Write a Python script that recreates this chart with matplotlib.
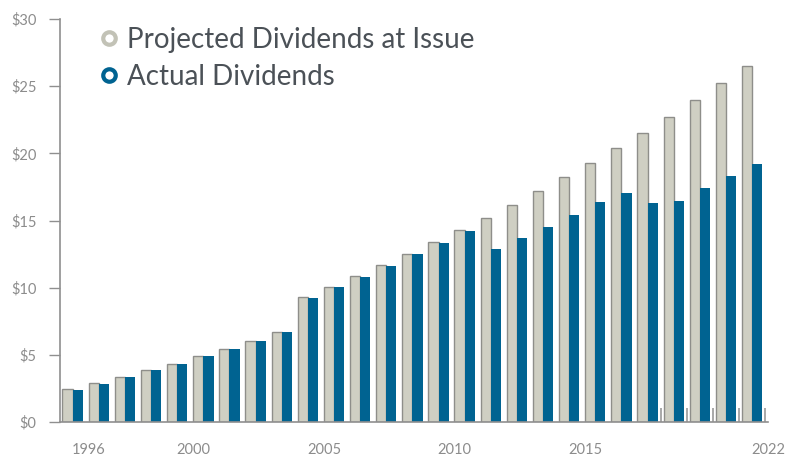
import numpy as np
import matplotlib
matplotlib.use('Agg')

import matplotlib.pyplot as plt
from matplotlib.lines import Line2D

plt.rcParams['font.family'] = ['Lato', 'DejaVu Sans']

years = list(range(1996, 2023))
projected = [2.43, 2.87, 3.36, 3.86, 4.35, 4.90, 5.47, 6.06, 6.68, 9.30, 10.04, 10.85, 11.66,
             12.49, 13.38, 14.30, 15.21, 16.17, 17.19, 18.22, 19.28, 20.38, 21.54, 22.71,
             23.96, 25.20, 26.47]
actual = [2.37, 2.85, 3.33, 3.85, 4.33, 4.88, 5.46, 6.05, 6.67, 9.25, 10.02, 10.83, 11.64,
          12.47, 13.36, 14.25, 12.91, 13.72, 14.54, 15.43, 16.39, 17.06, 16.32, 16.47,
          17.43, 18.32, 19.20]
label_years = [1996, 2000, 2005, 2010, 2015, 2022]
y_ticks = [0, 5, 10, 15, 20, 25, 30]

grey_fill = '#cfcfc3'
grey_edge = '#8e8e8a'
blue = '#006391'
axis_col = '#8f8f8f'
label_col = '#8c8c8c'


def main():
    fig = plt.figure(figsize=(7.89, 4.57), dpi=100)
    ax = fig.add_axes([60 / 789, 1 - 422 / 457, (768.3 - 60) / 789, (422 - 19) / 457])

    x = np.arange(len(years))
    w = 0.39
    ax.bar(x - w / 2, projected, width=w, color=grey_fill, edgecolor=grey_edge,
           linewidth=1.0, zorder=2)
    ax.bar(x + w / 2, actual, width=w, color=blue, edgecolor='none', zorder=2)

    ax.set_xlim(-0.485, 26.58)
    ax.set_ylim(0, 30)

    # year labels sit a bit right of each pair in the original
    ax.set_xticks([y - years[0] + 0.62 for y in label_years])
    ax.set_xticklabels([str(y) for y in label_years])
    ax.tick_params(axis='x', length=0, pad=15, labelsize=10.5, labelcolor=label_col)
    ax.set_xticks([22.5, 23.5, 24.5, 25.5, 26.5], minor=True)
    ax.tick_params(axis='x', which='minor', direction='in', length=10, width=1.2,
                   color='#9a9a9a')

    ax.set_yticks(y_ticks)
    ax.set_yticklabels(['$' + str(v) for v in y_ticks])
    ax.tick_params(axis='y', length=8, width=1, color=axis_col, pad=9,
                   labelsize=10.5, labelcolor=label_col)

    for s in ['top', 'right']:
        ax.spines[s].set_visible(False)
    for s in ['left', 'bottom']:
        ax.spines[s].set_color(axis_col)
        ax.spines[s].set_linewidth(1.2)

    handles = [
        Line2D([], [], linestyle='none', marker='o', markersize=9, markerfacecolor='white',
               markeredgecolor='#c2c2b6', markeredgewidth=3),
        Line2D([], [], linestyle='none', marker='o', markersize=9, markerfacecolor='white',
               markeredgecolor=blue, markeredgewidth=3),
    ]
    leg = ax.legend(handles, ['Projected Dividends at Issue', 'Actual Dividends'],
                    loc='upper left', bbox_to_anchor=(101 / 789, 1 - 27 / 457),
                    bbox_transform=fig.transFigure, frameon=False, fontsize=20,
                    handlelength=0.6, handletextpad=0.35, labelspacing=0.4,
                    borderpad=0, borderaxespad=0)
    for t in leg.get_texts():
        t.set_color('#4b5157')

    fig.savefig('out.png', dpi=100)


if __name__ == "__main__":
    main()
